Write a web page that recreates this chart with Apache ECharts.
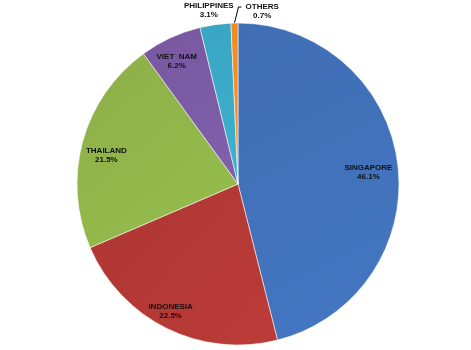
<!DOCTYPE html>
<html><head><meta charset="utf-8">
<script src="https://cdn.jsdelivr.net/npm/echarts@6/dist/echarts.min.js"></script>
<style>html,body{margin:0;padding:0;background:#fff}#c{width:471px;height:350px}</style>
</head><body><div id="c"></div>
<script>
var categories = ['SINGAPORE','INDONESIA','THAILAND','VIET  NAM','PHILIPPINES','OTHERS'];
var values = [46.1, 22.5, 21.5, 6.2, 3.1, 0.7];
var colors = ['#3F6EB4','#AE3733','#8CAF48','#7858A0','#39A5C2','#EF8A22'];
var innerLabel = [true, true, true, true, false, false];
var outerLabel = [false, false, false, false, true, false];
var labelOffsets = [[-5,5],[-7,5],[0,7],[-4,1],[-4,4],[54,0]];

var chart = echarts.init(document.getElementById('c'));
var font = {fontFamily:'Liberation Sans', fontWeight:'bold', fontSize:8, color:'#111', lineHeight:9};
function shade(c){
  return new echarts.graphic.LinearGradient(0,0,1,1,[{offset:0,color:c},{offset:1,color:echarts.color.lift(c,-0.08)}]);
}
function fmt(p){ return p.name + '\n' + p.value + '%'; }
var mainData = categories.map(function(n,i){
  var d = {name:n, value:values[i], itemStyle:{color:shade(colors[i])}};
  if (n === 'OTHERS') {
    d.label = Object.assign({show:true, position:'outside',
      formatter:function(p){ return '{t|' + p.name + '}\n{t|' + p.value + '%}'; },
      rich:{t:Object.assign({width:34, align:'center'}, font)}}, font);
    d.labelLine = {show:true, length:12, length2:4, lineStyle:{color:'#000', width:1}};
  } else {
    d.label = {show:false}; d.labelLine = {show:false};
  }
  return d;
});
function overlay(flags){
  return categories.map(function(n,i){
    return {name:n, value:values[i], itemStyle:{color:'rgba(0,0,0,0)'},
      label:Object.assign({show:flags[i], position:'inside', formatter:fmt}, font)};
  });
}
function offs(p){ var o = labelOffsets[p.dataIndex]; return {dx:o[0], dy:o[1]}; }
chart.setOption({
  animation:false,
  series:[
    {type:'pie', center:[238,184], radius:[0,161], startAngle:90, clockwise:true,
     itemStyle:{borderColor:'rgba(255,255,255,0.55)', borderWidth:1},
     data:mainData,
     labelLayout:function(p){
       var o = offs(p);
       if (p.labelLinePoints && p.labelLinePoints.length) {
         var p0 = p.labelLinePoints[0];
         var p1 = [p0[0] + 4, p0[1] - 16];
         var p2 = [p1[0] + 3, p1[1]];
         o.labelLinePoints = [p0, p1, p2];
       }
       return o;
     }},
    {type:'pie', center:[238,184], radius:[106,161], startAngle:90, clockwise:true, silent:true,
     itemStyle:{borderWidth:0}, labelLine:{show:false}, data:overlay(innerLabel), labelLayout:offs},
    {type:'pie', center:[238,184], radius:[170,182], startAngle:90, clockwise:true, silent:true,
     itemStyle:{borderWidth:0}, labelLine:{show:false}, data:overlay(outerLabel), labelLayout:offs}
  ]
});
</script></body></html>
